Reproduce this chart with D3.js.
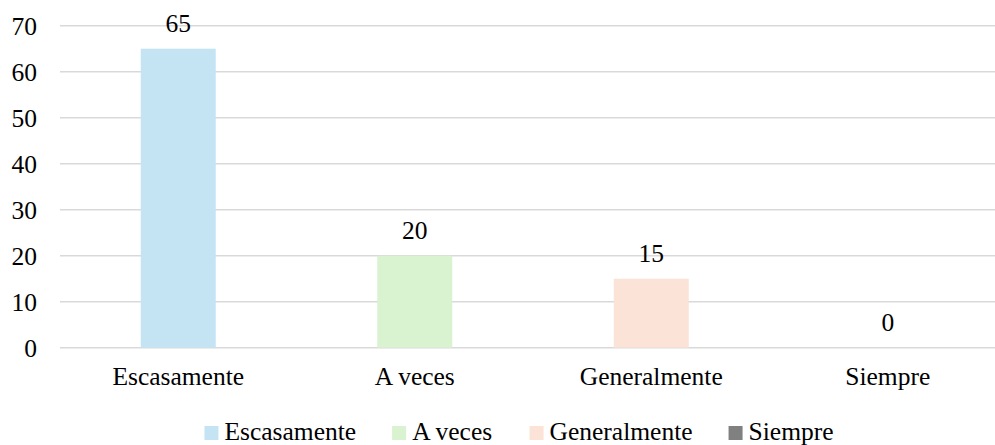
<!DOCTYPE html>
<html>
<head>
<meta charset="utf-8">
<script src="https://cdn.jsdelivr.net/npm/d3@7/dist/d3.min.js"></script>
<style>
  html, body { margin: 0; padding: 0; background: #fff; }
  svg { display: block; }
</style>
</head>
<body>
<svg id="chart" width="995" height="445"></svg>
<script>
const categories = ["Escasamente", "A veces", "Generalmente", "Siempre"];
const values = [65, 20, 15, 0];
const colors = ["#c4e4f4", "#d9f2d0", "#fbe3d7", "#808080"];
const yTicks = [0, 10, 20, 30, 40, 50, 60, 70];

const FONT = "Liberation Serif";
const fontSize = 25.5;
const svg = d3.select("#chart");

function serif(sel) {
  return sel.style("font-family", FONT).style("font-size", fontSize + "px").attr("fill", "#000");
}

const x = d3.scaleBand().domain(categories).range([60, 1006]).padding(0);
const y = d3.scaleLinear().domain([0, 70]).range([347.7, 25.7]);
const barW = x.bandwidth() * 0.317;

// horizontal gridlines
svg.append("g").selectAll("line").data(yTicks).join("line")
  .attr("x1", 60).attr("x2", 1006)
  .attr("y1", d => y(d)).attr("y2", d => y(d))
  .attr("stroke", "#d9d9d9").attr("stroke-width", 1.4);

// y-axis labels
const yAxis = d3.axisLeft(y).tickValues(yTicks).tickSize(0).tickPadding(0);
const gy = svg.append("g").attr("transform", "translate(37,0)").call(yAxis);
gy.select(".domain").remove();
serif(gy.selectAll("text")).attr("dy", "0.35em");

// bars
svg.append("g").selectAll("rect").data(values).join("rect")
  .attr("x", (d, i) => x(categories[i]) + x.bandwidth() / 2 - barW / 2)
  .attr("width", barW)
  .attr("y", d => y(d))
  .attr("height", d => y(0) - y(d))
  .attr("fill", (d, i) => colors[i]);

// value labels
serif(svg.append("g").selectAll("text").data(values).join("text"))
  .attr("x", (d, i) => x(categories[i]) + x.bandwidth() / 2)
  .attr("y", d => y(d) - 16.5)
  .attr("text-anchor", "middle")
  .text(d => d);

// category labels
const xAxis = d3.axisBottom(x).tickSize(0).tickPadding(0);
const gx = svg.append("g").attr("transform", "translate(0,385)").call(xAxis);
gx.select(".domain").remove();
serif(gx.selectAll("text")).attr("dy", 0).attr("y", 0);

// legend: item widths measured on a canvas
const ctx = document.createElement("canvas").getContext("2d");
ctx.font = `${fontSize}px "${FONT}"`;
const swatch = 14, swGap = 6, itemGap = 36;
const widths = categories.map(c => swatch + swGap + ctx.measureText(c).width);
const offsets = [];
let cx = 0;
widths.forEach(w => { offsets.push(cx); cx += w + itemGap; });
const total = cx - itemGap;

const legend = svg.append("g").attr("transform", `translate(${519 - total / 2},440)`);
const items = legend.selectAll("g").data(categories).join("g")
  .attr("transform", (d, i) => `translate(${offsets[i]},0)`);
items.append("rect").attr("width", swatch).attr("height", swatch).attr("y", -swatch)
  .attr("fill", (d, i) => colors[i]);
serif(items.append("text")).attr("x", swatch + swGap).attr("y", 0).text(d => d);
</script>
</body>
</html>
